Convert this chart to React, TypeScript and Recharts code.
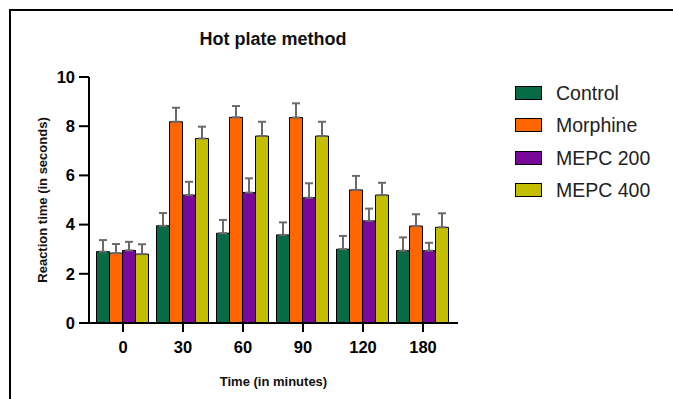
import React from "react"
import { BarChart, Bar, XAxis, YAxis, ErrorBar } from "recharts"

const times = ["0", "30", "60", "90", "120", "180"]
const control = [2.9, 3.95, 3.65, 3.58, 3.0, 2.94]
const controlErr = [0.47, 0.52, 0.54, 0.51, 0.54, 0.54]
const morphine = [2.84, 8.18, 8.36, 8.35, 5.41, 3.94]
const morphineErr = [0.37, 0.57, 0.46, 0.58, 0.57, 0.48]
const mepc200 = [2.95, 5.2, 5.3, 5.09, 4.15, 2.94]
const mepc200Err = [0.35, 0.54, 0.58, 0.59, 0.5, 0.32]
const mepc400 = [2.8, 7.5, 7.6, 7.6, 5.2, 3.89]
const mepc400Err = [0.4, 0.48, 0.58, 0.58, 0.5, 0.57]
const yTicks = [0, 2, 4, 6, 8, 10]

const series = [
  { key: "control", name: "Control", color: "#076b46" },
  { key: "morphine", name: "Morphine", color: "#ff6600" },
  { key: "mepc200", name: "MEPC 200", color: "#78079a" },
  { key: "mepc400", name: "MEPC 400", color: "#c3bf00" },
]

const data = times.map((t, i) => ({
  time: t,
  control: control[i],
  controlErr: [0, controlErr[i]],
  morphine: morphine[i],
  morphineErr: [0, morphineErr[i]],
  mepc200: mepc200[i],
  mepc200Err: [0, mepc200Err[i]],
  mepc400: mepc400[i],
  mepc400Err: [0, mepc400Err[i]],
}))

const font = "'Liberation Sans', Arial, sans-serif"
const tickStyle = { fontSize: 16.5, fontWeight: 700, fill: "#000", fontFamily: font }

export default function App() {
  return (
    <div
      style={{
        position: "absolute",
        left: 0,
        top: 0,
        width: 673,
        height: 399,
        background: "#fff",
        overflow: "hidden",
        fontFamily: font,
      }}
    >
      {/* frame */}
      <div
        style={{
          position: "absolute",
          left: 9,
          top: 9,
          width: 680,
          height: 400,
          borderTop: "2px solid #000",
          borderLeft: "2px solid #000",
        }}
      />
      <div
        style={{
          position: "absolute",
          left: 0,
          top: 30,
          width: 546,
          textAlign: "center",
          fontSize: 18,
          lineHeight: "18px",
          fontWeight: 700,
          color: "#111",
        }}
      >
        Hot plate method
      </div>
      <BarChart
        width={673}
        height={399}
        data={data}
        margin={{ top: 77, right: 215, bottom: 0, left: 0 }}
        barCategoryGap={3.5}
        barGap={0}
      >
        <XAxis
          dataKey="time"
          height={76}
          padding={{ left: 4, right: 5 }}
          axisLine={{ stroke: "#000", strokeWidth: 2 }}
          tickLine={{ stroke: "#000", strokeWidth: 2 }}
          tickSize={9}
          tickMargin={9}
          tick={tickStyle}
          label={{
            value: "Time (in minutes)",
            position: "insideBottom",
            offset: 13,
            style: { fontSize: 13, fontWeight: 700, fill: "#111", fontFamily: font },
          }}
        />
        <YAxis
          width={89}
          domain={[0, 10]}
          ticks={yTicks}
          interval={0}
          axisLine={{ stroke: "#000", strokeWidth: 2 }}
          tickLine={{ stroke: "#000", strokeWidth: 2 }}
          tickSize={10}
          tickMargin={4}
          tick={tickStyle}
          label={{
            value: "Reaction time (in seconds)",
            angle: -90,
            position: "insideLeft",
            offset: 42,
            style: {
              fontSize: 13,
              fontWeight: 700,
              fill: "#111",
              fontFamily: font,
              textAnchor: "middle",
            },
          }}
        />
        {series.map((s) => (
          <Bar
            key={s.key}
            dataKey={s.key}
            name={s.name}
            fill={s.color}
            stroke="#000"
            strokeWidth={1}
            isAnimationActive={false}
          >
            <ErrorBar
              dataKey={s.key + "Err"}
              width={4}
              stroke="#6a6a6a"
              strokeWidth={2}
              direction="y"
            />
          </Bar>
        ))}
      </BarChart>
      <div style={{ position: "absolute", left: 515, top: 77 }}>
        {series.map((s) => (
          <div
            key={s.key}
            style={{ display: "flex", alignItems: "center", height: 32.3 }}
          >
            <span
              style={{
                display: "inline-block",
                width: 25,
                height: 12,
                background: s.color,
                border: "1px solid #000",
              }}
            />
            <span
              style={{
                marginLeft: 14,
                fontSize: 19.5,
                color: "#222",
                lineHeight: "20px",
              }}
            >
              {s.name}
            </span>
          </div>
        ))}
      </div>
    </div>
  )
}
